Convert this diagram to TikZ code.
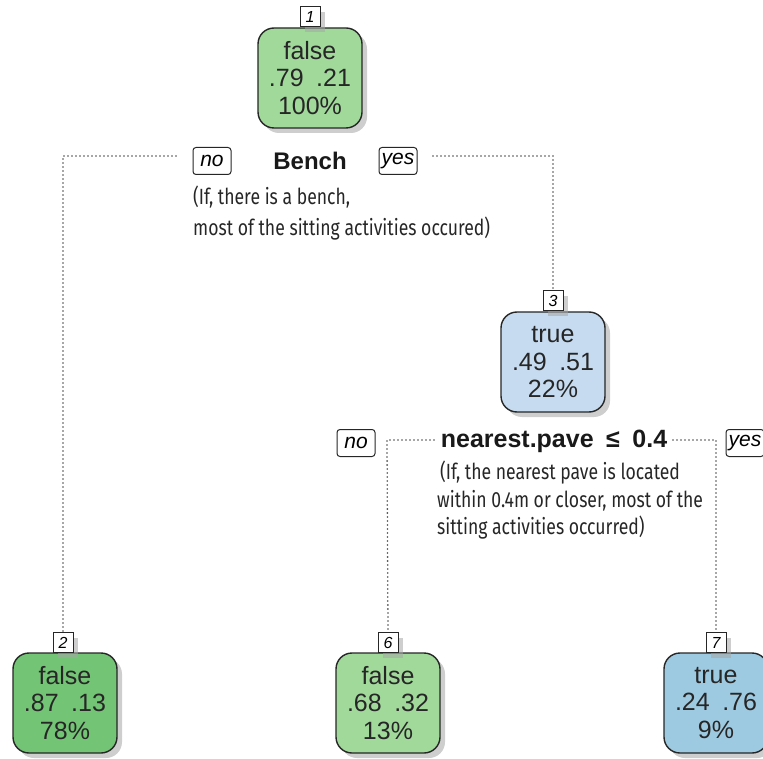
\documentclass[tikz,border=0pt]{standalone}
\usepackage{fontspec}
\setmainfont{Liberation Sans}
\newfontfamily\agency[FakeStretch=0.8]{Fira Sans}
\usetikzlibrary{shadows}
\definecolor{gnA}{HTML}{A1D99B}
\definecolor{gnB}{HTML}{74C476}
\definecolor{buA}{HTML}{C6DBEF}
\definecolor{buB}{HTML}{9ECAE1}
\tikzset{
  shd/.style={drop shadow={shadow xshift=5pt, shadow yshift=-5pt, fill=black!35, opacity=0.55}},
  leaf/.style={draw=black!85, line width=1.4pt, rounded corners=16pt, minimum width=104pt,
    minimum height=100pt, align=center, inner sep=0pt, text=black!85,
    font=\fontsize{25}{27.5}\selectfont, shd},
  numbox/.style={draw=black!85, line width=1pt, fill=white, minimum width=20pt, minimum height=20pt,
    inner sep=0pt, font=\fontsize{16}{16}\selectfont\itshape, shd},
  yesno/.style={draw=black!85, rounded corners=3pt, line width=1pt, minimum width=38pt,
    minimum height=27pt, inner sep=0pt, fill=white, font=\fontsize{21}{21}\selectfont\itshape},
  dotline/.style={line width=1.8pt, dash pattern=on 0pt off 4pt, line cap=round, draw=black!70},
  splitlbl/.style={font=\fontsize{24}{24}\selectfont\bfseries, inner sep=0pt, text=black!90},
  note/.style={anchor=base west, inner sep=0pt, text=black!85, font=\agency\fontsize{22}{22}\selectfont}
}
\begin{document}
\begin{tikzpicture}[x=1pt,y=-1pt]
\useasboundingbox (0,0) rectangle (763,759);
% nodes
\node[leaf, fill=gnA] (n1) at (310,78) {false\\.79\enspace.21\\100\%};
\node[numbox, anchor=south] (l1) at (n1.north) {1};
\node[leaf, fill=buA] (n3) at (553,362) {true\\.49\enspace.51\\22\%};
\node[numbox, anchor=south] (l3) at (n3.north) {3};
\node[leaf, fill=gnB] (n2) at (65,703) {false\\.87\enspace.13\\78\%};
\node[numbox, anchor=south] (l2) at (63,653) {2};
\node[leaf, fill=gnA] (n6) at (388,703) {false\\.68\enspace.32\\13\%};
\node[numbox, anchor=south] (l6) at (388,653) {6};
\node[leaf, fill=buB] (n7) at (716,703) {true\\.24\enspace.76\\9\%};
\node[numbox, anchor=south] (l7) at (716,653) {7};
% split 1
\node[yesno] (no1) at (212,161) {no};
\node[splitlbl] (s1) at (310,161) {Bench};
\node[yesno] (yes1) at (398,161) {yes};
\node[note] (a1) at (193,205) {(If, there is a bench,};
\node[note] (a2) at (193,236) {most of the sitting activities occured)};
% split 2
\node[yesno] (no2) at (356,443) {no};
\node[splitlbl, font=\fontsize{25}{25}\selectfont\bfseries] (s2) at (554,441) {nearest.pave\enspace≤\enspace0.4};
\node[yesno] (yes2) at (745,443) {yes};
\node[note] (b1) at (440,479) {(If, the nearest pave is located};
\node[note] (b2) at (437,507) {within 0.4m or closer, most of the};
\node[note] (b3) at (437,534) {sitting activities occurred)};
% connectors
\coordinate (p1a) at (176,156);
\coordinate (p1b) at (63,156);
\coordinate (p1c) at (433,156);
\coordinate (p1d) at (553,156);
\draw[dotline] (p1a) -- (p1b) -- (l2.north);
\draw[dotline] (p1c) -- (p1d) -- (l3.north);
\coordinate (p2a) at (434,440);
\coordinate (p2b) at (387,440);
\coordinate (p2c) at (673,440);
\coordinate (p2d) at (716,440);
\draw[dotline] (p2a) -- (p2b) -- (l6.north);
\draw[dotline] (p2c) -- (p2d) -- (l7.north);
\end{tikzpicture}
\end{document}
